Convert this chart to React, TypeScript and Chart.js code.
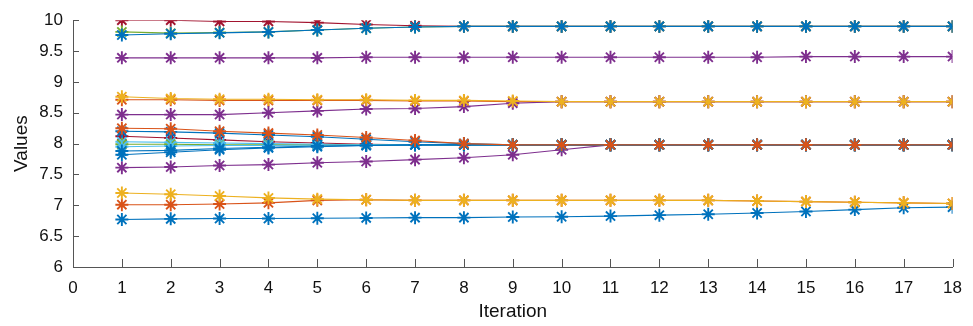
import React, { useEffect, useRef } from "react";
import { Chart, registerables } from "chart.js";

Chart.register(...registerables);

const iterations = [1, 2, 3, 4, 5, 6, 7, 8, 9, 10, 11, 12, 13, 14, 15, 16, 17, 18];
const xTicks = [0, 1, 2, 3, 4, 5, 6, 7, 8, 9, 10, 11, 12, 13, 14, 15, 16, 17, 18];
const yTicks = [6, 6.5, 7, 7.5, 8, 8.5, 9, 9.5, 10];

// top group (converge to 9.9)
const redTop = [10.0, 10.0, 9.98, 9.98, 9.96, 9.93, 9.91, 9.9, 9.9, 9.9, 9.9, 9.9, 9.9, 9.9, 9.9, 9.9, 9.9, 9.9];
const greenTop = [9.81, 9.79, 9.8, 9.81, 9.84, 9.87, 9.89, 9.9, 9.9, 9.9, 9.9, 9.9, 9.9, 9.9, 9.9, 9.9, 9.9, 9.9];
const blueTop = [9.76, 9.78, 9.795, 9.81, 9.84, 9.87, 9.89, 9.9, 9.9, 9.9, 9.9, 9.9, 9.9, 9.9, 9.9, 9.9, 9.9, 9.9];
const purpleTop = [9.39, 9.39, 9.39, 9.39, 9.39, 9.4, 9.4, 9.4, 9.4, 9.4, 9.4, 9.4, 9.4, 9.4, 9.41, 9.41, 9.41, 9.41];

// group converging to 8.68
const orangeMid = [8.71, 8.71, 8.7, 8.7, 8.7, 8.7, 8.69, 8.69, 8.68, 8.68, 8.68, 8.68, 8.68, 8.68, 8.68, 8.68, 8.68, 8.68];
const purpleMid = [8.47, 8.47, 8.47, 8.5, 8.53, 8.56, 8.57, 8.6, 8.655, 8.68, 8.68, 8.68, 8.68, 8.68, 8.68, 8.68, 8.68, 8.68];
const yellowMid = [8.76, 8.73, 8.72, 8.72, 8.71, 8.71, 8.7, 8.7, 8.69, 8.68, 8.68, 8.68, 8.68, 8.68, 8.68, 8.68, 8.68, 8.68];

// group converging to 7.98
const purpleLow = [7.61, 7.62, 7.645, 7.66, 7.69, 7.71, 7.74, 7.77, 7.82, 7.9, 7.98, 7.98, 7.98, 7.98, 7.98, 7.98, 7.98, 7.98];
const red8 = [8.12, 8.09, 8.06, 8.03, 8.01, 7.99, 7.98, 7.98, 7.98, 7.98, 7.98, 7.98, 7.98, 7.98, 7.98, 7.98, 7.98, 7.98];
const lightBlue8a = [8.03, 8.02, 8.01, 8.0, 7.99, 7.98, 7.98, 7.98, 7.98, 7.98, 7.98, 7.98, 7.98, 7.98, 7.98, 7.98, 7.98, 7.98];
const green8 = [7.99, 7.99, 7.98, 7.98, 7.98, 7.98, 7.98, 7.98, 7.98, 7.98, 7.98, 7.98, 7.98, 7.98, 7.98, 7.98, 7.98, 7.98];
const lightBlue8b = [7.95, 7.96, 7.97, 7.97, 7.98, 7.98, 7.98, 7.98, 7.98, 7.98, 7.98, 7.98, 7.98, 7.98, 7.98, 7.98, 7.98, 7.98];
const blue8b = [7.88, 7.89, 7.92, 7.94, 7.96, 7.97, 7.98, 7.98, 7.98, 7.98, 7.98, 7.98, 7.98, 7.98, 7.98, 7.98, 7.98, 7.98];
const blue8c = [7.82, 7.86, 7.9, 7.93, 7.95, 7.97, 7.98, 7.98, 7.98, 7.98, 7.98, 7.98, 7.98, 7.98, 7.98, 7.98, 7.98, 7.98];
const blue8a = [8.2, 8.19, 8.17, 8.14, 8.11, 8.07, 8.03, 8.0, 7.98, 7.98, 7.98, 7.98, 7.98, 7.98, 7.98, 7.98, 7.98, 7.98];
const orange8 = [8.25, 8.24, 8.2, 8.17, 8.14, 8.1, 8.05, 8.0, 7.98, 7.98, 7.98, 7.98, 7.98, 7.98, 7.98, 7.98, 7.98, 7.98];

// bottom group
const blueBottom = [6.77, 6.78, 6.785, 6.785, 6.79, 6.795, 6.8, 6.8, 6.81, 6.815, 6.825, 6.84, 6.855, 6.875, 6.9, 6.93, 6.96, 6.97];
const orangeBottom = [7.01, 7.01, 7.02, 7.04, 7.08, 7.09, 7.08, 7.08, 7.08, 7.08, 7.08, 7.08, 7.08, 7.07, 7.06, 7.05, 7.04, 7.03];
const yellowBottom = [7.2, 7.18, 7.15, 7.12, 7.1, 7.09, 7.08, 7.08, 7.08, 7.08, 7.08, 7.08, 7.08, 7.07, 7.06, 7.05, 7.04, 7.03];

const BLUE = "#0072BD";
const ORANGE = "#D95319";
const YELLOW = "#EDB120";
const PURPLE = "#7E2F8E";
const GREEN = "#77AC30";
const LIGHTBLUE = "#4DBEEE";
const RED = "#A2142F";

// listed in drawing order: later entries end up on top
const seriesList: [number[], string][] = [
  [redTop, RED],
  [greenTop, GREEN],
  [blueTop, BLUE],
  [purpleTop, PURPLE],
  [orangeMid, ORANGE],
  [purpleMid, PURPLE],
  [yellowMid, YELLOW],
  [purpleLow, PURPLE],
  [red8, RED],
  [lightBlue8a, LIGHTBLUE],
  [green8, GREEN],
  [lightBlue8b, LIGHTBLUE],
  [blue8b, BLUE],
  [blue8c, BLUE],
  [blue8a, BLUE],
  [orange8, ORANGE],
  [blueBottom, BLUE],
  [orangeBottom, ORANGE],
  [yellowBottom, YELLOW],
];

const FONT = "'Liberation Sans', Arial, Helvetica, sans-serif";

const inwardTicks = {
  id: "inwardTicks",
  afterDraw(chart: any) {
    const ctx = chart.ctx;
    const xs = chart.scales.x;
    const ys = chart.scales.y;
    const area = chart.chartArea;
    ctx.save();
    ctx.strokeStyle = "#555555";
    ctx.lineWidth = 1;
    ctx.beginPath();
    for (const v of xTicks) {
      const px = Math.round(xs.getPixelForValue(v)) + 0.5;
      ctx.moveTo(px, area.bottom);
      ctx.lineTo(px, area.bottom - 8);
    }
    for (const v of yTicks) {
      const py = Math.round(ys.getPixelForValue(v)) + 0.5;
      ctx.moveTo(area.left, py);
      ctx.lineTo(area.left + 6, py);
    }
    ctx.stroke();
    ctx.restore();
  },
};

export default function App() {
  const ref = useRef<HTMLCanvasElement | null>(null);

  useEffect(() => {
    if (!ref.current) return;
    const n = seriesList.length;
    const datasets = seriesList.map(([vals, color], idx) => ({
      data: iterations.map((it, i) => ({ x: it, y: vals[i] })),
      order: n - idx,
      borderColor: color,
      backgroundColor: color,
      borderWidth: 1.1,
      pointStyle: "star" as const,
      pointRadius: 6.5,
      pointBorderWidth: 1.9,
      pointBorderColor: color,
      pointBackgroundColor: color,
      fill: false,
      tension: 0,
    }));
    const chart = new Chart(ref.current, {
      type: "line",
      data: { datasets },
      plugins: [inwardTicks],
      options: {
        animation: false,
        responsive: false,
        events: [],
        layout: { padding: { top: 18, right: 13, bottom: 0, left: 0 } },
        plugins: { legend: { display: false }, tooltip: { enabled: false } },
        scales: {
          x: {
            type: "linear",
            min: 0,
            max: 18,
            afterFit: (s: any) => {
              s.height = 59;
            },
            afterBuildTicks: (s: any) => {
              s.ticks = xTicks.map((v) => ({ value: v }));
            },
            grid: { display: true, drawOnChartArea: false, drawTicks: false },
            border: { display: true, color: "#555555", width: 1 },
            ticks: {
              padding: 11,
              color: "#111111",
              font: { family: FONT, size: 17 },
              maxRotation: 0,
              autoSkip: false,
              callback: (v: any) => String(v),
            },
            title: {
              display: true,
              text: "Iteration",
              color: "#111111",
              font: { family: FONT, size: 19 },
              padding: { top: 0, bottom: 3 },
            },
          },
          y: {
            type: "linear",
            min: 6,
            max: 10,
            afterFit: (s: any) => {
              s.width = 73;
            },
            afterBuildTicks: (s: any) => {
              s.ticks = yTicks.map((v) => ({ value: v }));
            },
            grid: { display: true, drawOnChartArea: false, drawTicks: false },
            border: { display: true, color: "#555555", width: 1 },
            ticks: {
              padding: 10,
              color: "#111111",
              font: { family: FONT, size: 17 },
              autoSkip: false,
              callback: (v: any) => String(v),
            },
            title: {
              display: true,
              text: "Values",
              color: "#111111",
              font: { family: FONT, size: 19 },
              padding: { top: 10, bottom: 0 },
            },
          },
        },
      },
    });
    return () => chart.destroy();
  }, []);

  return (
    <div style={{ position: "absolute", left: 0, top: 0, width: 973, height: 326, background: "#ffffff" }}>
      <canvas ref={ref} width={973} height={326} style={{ display: "block", width: 973, height: 326 }} />
    </div>
  );
}
